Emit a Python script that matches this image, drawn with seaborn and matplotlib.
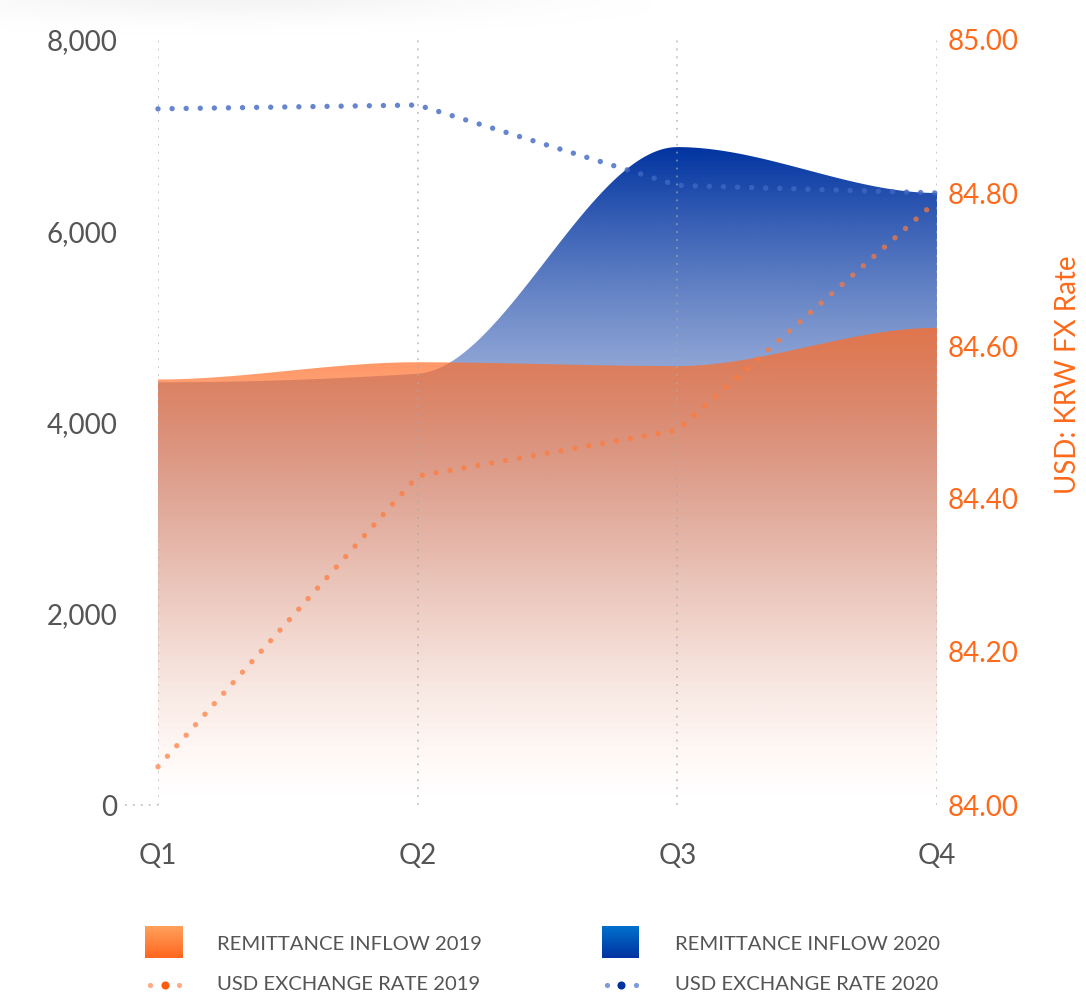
import numpy as np
import matplotlib
matplotlib.use("Agg")
import matplotlib.pyplot as plt
import seaborn as sns
import pandas as pd

# --- DATA ---
quarters = ["Q1", "Q2", "Q3", "Q4"]
inflow_2019 = [4450, 4630, 4590, 4990]
inflow_2020 = [4420, 4510, 6880, 6400]
rate_2019 = [84.05, 84.43, 84.49, 84.79]
rate_2020 = [84.91, 84.915, 84.81, 84.80]
left_ticks = [0, 2000, 4000, 6000, 8000]
right_ticks = [84.0, 84.2, 84.4, 84.6, 84.8, 85.0]

ORANGE = "#FF6A1A"
GREY = "#555555"

sns.set_theme(style="white")
plt.rcParams["font.family"] = ["Lato", "DejaVu Sans"]


def smooth(values, n=80):
    # monotone cubic (flat at extremes and ends) for the area outlines
    y = np.asarray(values, float)
    d = np.diff(y)
    m = np.zeros(len(y))
    for i in range(1, len(y) - 1):
        if d[i - 1] * d[i] > 0:
            m[i] = 2.0 / (1.0 / d[i - 1] + 1.0 / d[i])
    xs, ys = [], []
    for i in range(len(y) - 1):
        t = np.linspace(0, 1, n)
        h00 = 2 * t**3 - 3 * t**2 + 1
        h10 = t**3 - 2 * t**2 + t
        h01 = -2 * t**3 + 3 * t**2
        h11 = t**3 - t**2
        xs.append(i + t)
        ys.append(h00 * y[i] + h10 * m[i] + h01 * y[i + 1] + h11 * m[i + 1])
    return np.concatenate(xs), np.concatenate(ys)


def gradient_area(ax, values, rgb, amax, power):
    xs, ys = smooth(values)
    poly = ax.fill_between(xs, 0, ys, facecolor="none", edgecolor="none")
    top = ys.max()
    f = np.linspace(0, 1, 400)
    img = np.zeros((400, 2, 4))
    img[..., :3] = rgb
    img[..., 3] = (amax * f**power)[:, None]
    im = ax.imshow(img, extent=[0, 3, 0, top], origin="lower", aspect="auto",
                   interpolation="bilinear", zorder=1)
    im.set_clip_path(poly.get_paths()[0], transform=ax.transData)


W, H = 1086, 993
fig = plt.figure(figsize=(W / 100, H / 100), dpi=100)
ax = fig.add_axes([158 / W, 1 - 805 / H, (937 - 158) / W, (805 - 40) / H])

# --- areas (2020 behind, 2019 on top) ---
gradient_area(ax, inflow_2020, (0.0, 0.2, 0.63), 1.0, 2.0)
gradient_area(ax, inflow_2019, (1.0, 0.43, 0.16), 0.78, 1.3)

for i in range(len(quarters)):
    ax.axvline(i, color="#a8a8a8", alpha=0.8, linestyle=(0, (1.2, 4)), linewidth=1.1, zorder=3)
ax.plot([-0.127, 0], [0, 0], color="#a8a8a8", alpha=0.8, linestyle=(0, (1.2, 4)),
        linewidth=1.1, zorder=3, clip_on=False)

ax.set_xlim(0, 3)
ax.set_ylim(0, 8000)
ax.set_xticks(range(len(quarters)))
ax.set_xticklabels(quarters)
ax.set_yticks(left_ticks)
ax.set_yticklabels([f"{v:,}" for v in left_ticks])
ax.tick_params(axis="y", length=0, pad=29, labelsize=20, labelcolor=GREY)
ax.tick_params(axis="x", length=0, pad=27, labelsize=20, labelcolor=GREY)
ax.grid(False)
for s in ax.spines.values():
    s.set_visible(False)

# --- exchange rate lines ---
ax2 = ax.twinx()
df = pd.DataFrame({"q": range(len(quarters)), "r2019": rate_2019, "r2020": rate_2020})
sns.lineplot(data=df, x="q", y="r2019", ax=ax2, color="#FF7A3A", alpha=0.7,
             linewidth=3.9, linestyle=(0, (0.001, 2.6)), dash_capstyle="round",
             clip_on=False, zorder=5)
sns.lineplot(data=df, x="q", y="r2020", ax=ax2, color="#3F68C2", alpha=0.8,
             linewidth=3.9, linestyle=(0, (0.001, 2.6)), dash_capstyle="round",
             clip_on=False, zorder=5)
ax2.set_xlim(0, 3)
ax2.set_ylim(84, 85)
ax2.set_yticks(right_ticks)
ax2.set_yticklabels([f"{v:.2f}" for v in right_ticks])
ax2.tick_params(axis="y", length=0, pad=8, labelsize=20, labelcolor=ORANGE)
ax2.set_xlabel("")
ax2.set_ylabel("USD: KRW FX Rate", color=ORANGE, fontsize=20)
ax2.yaxis.set_label_coords(1.152, 0.562)
ax2.grid(False)
for s in ax2.spines.values():
    s.set_visible(False)

# --- legend + card shadow (pixel coordinates) ---
lax = fig.add_axes([0, 0, 1, 1])
lax.set_axis_off()

gx, gy = np.meshgrid(np.arange(0, 650), np.arange(0, 50))
shade = np.zeros((50, 650, 4))
shade[..., :3] = 0.55
shade[..., 3] = 0.10 * np.exp(-((gx - 230) / 260.0) ** 2 - ((gy + 5) / 22.0) ** 2)
lax.imshow(shade, extent=[0, 650, 50, 0], aspect="auto", interpolation="bilinear")

t = np.linspace(0, 1, 50)[:, None, None]
sq_orange = np.ones((50, 2, 3)) * ((1 - t) * np.array([1.0, 0.63, 0.36]) + t * np.array([1.0, 0.40, 0.12]))
sq_blue = np.ones((50, 2, 3)) * ((1 - t) * np.array([0.0, 0.44, 0.80]) + t * np.array([0.0, 0.20, 0.63]))
lax.imshow(sq_orange, extent=[145, 183, 958, 926], aspect="auto")
lax.imshow(sq_blue, extent=[602, 639, 958, 926], aspect="auto")

lax.scatter([150, 179], [985, 985], s=14, color="#FFAA88", linewidths=0)
lax.scatter([165], [985], s=34, color="#FF5A10", linewidths=0)
lax.scatter([607, 636], [985, 985], s=14, color="#7F9BD6", linewidths=0)
lax.scatter([621], [985], s=34, color="#0033A0", linewidths=0)

legend_font = dict(fontsize=14.6, color=GREY, va="center", ha="left")
lax.text(217, 944, "REMITTANCE INFLOW 2019", **legend_font)
lax.text(675, 944, "REMITTANCE INFLOW 2020", **legend_font)
lax.text(217, 985, "USD EXCHANGE RATE 2019", **legend_font)
lax.text(675, 985, "USD EXCHANGE RATE 2020", **legend_font)
lax.set_xlim(0, W)
lax.set_ylim(H, 0)

fig.savefig("out.png", dpi=100)
